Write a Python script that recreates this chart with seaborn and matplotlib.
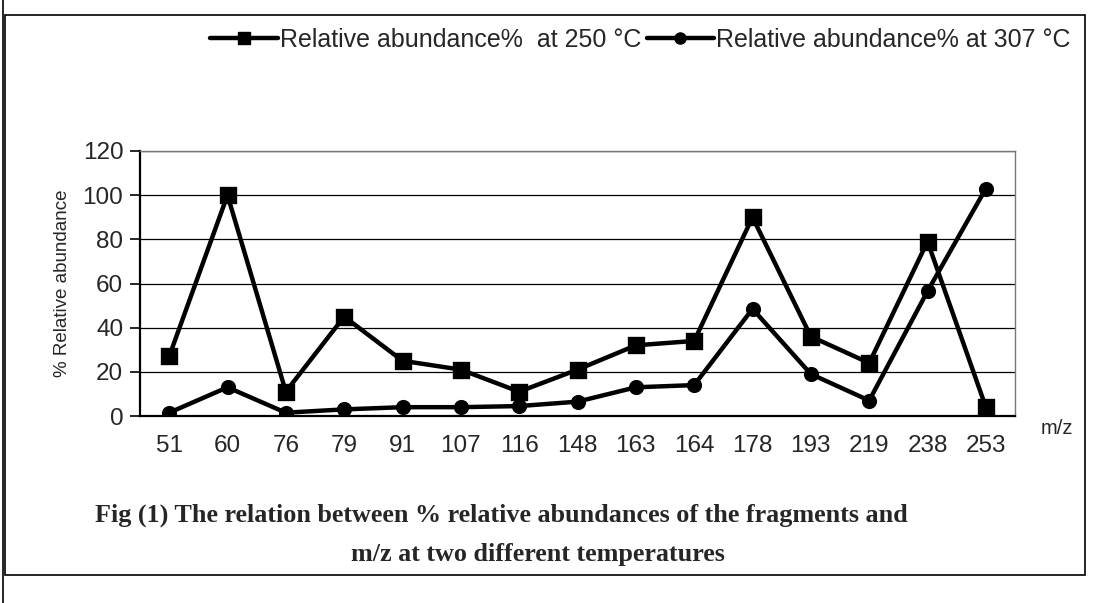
import numpy as np
import pandas as pd
import matplotlib
matplotlib.use("Agg")
import matplotlib.pyplot as plt
import seaborn as sns
from matplotlib.lines import Line2D
from matplotlib.patches import Rectangle

# m/z categories and % relative abundances
mz_labels = ["51", "60", "76", "79", "91", "107", "116", "148", "163",
             "164", "178", "193", "219", "238", "253"]
abund_250 = [27, 100, 11, 45, 25, 21, 11, 21, 32, 34, 90, 36, 24, 79, 4]
abund_307 = [1.5, 13, 1.5, 3, 4, 4, 4.5, 6.5, 13, 14, 48.5, 19, 7, 56.5, 103]
series_names = ["Relative abundance%  at 250 \u00b0C",
                "Relative abundance% at 307 \u00b0C"]
y_ticks = [0, 20, 40, 60, 80, 100, 120]

df = pd.DataFrame({
    "mz": mz_labels * 2,
    "abundance": abund_250 + abund_307,
    "series": [series_names[0]] * len(mz_labels) + [series_names[1]] * len(mz_labels),
})

sns.set_style("white")
plt.rcParams["font.family"] = ["Liberation Sans", "DejaVu Sans"]

fig = plt.figure(figsize=(11.12, 6.03), dpi=100)
ax = fig.add_axes([0.1259, 0.3101, 0.7869, 0.4395])

sns.pointplot(
    data=df, x="mz", y="abundance", hue="series", order=mz_labels,
    hue_order=series_names, palette=["black", "black"],
    markers=["s", "o"], linestyles=["-", "-"],
    markersize=10, linewidth=3.2, ax=ax, legend=False,
)
# circles are a bit smaller than the squares in the original
for ln in ax.lines:
    if ln.get_marker() == "o":
        ln.set_markersize(8.5)

ax.set_xlim(-0.5, len(mz_labels) - 0.5)
ax.set_ylim(0, 120)
ax.set_yticks(y_ticks)
ax.yaxis.grid(True, color="black", linewidth=0.9)
ax.set_axisbelow(True)

# category boundaries carry the tick marks, labels sit in the middle
ax.set_xticks(np.arange(len(mz_labels)))
ax.set_xticklabels(mz_labels, fontsize=17.5)
ax.set_xticks(np.arange(len(mz_labels) + 1) - 0.5, minor=True)
ax.tick_params(axis="x", which="major", length=0, pad=14)
ax.tick_params(axis="x", which="minor", length=9, width=1.2, color="black", direction="out")
ax.tick_params(axis="y", labelsize=17.5, length=7, width=1.2, color="black",
               direction="out", left=True, pad=5)

ax.set_xlabel("")
ax.set_ylabel("% Relative abundance", fontsize=13.5, labelpad=8)

for side in ["left", "bottom"]:
    ax.spines[side].set_color("black")
    ax.spines[side].set_linewidth(1.6)
for side in ["top", "right"]:
    ax.spines[side].set_color("#777777")
    ax.spines[side].set_linewidth(1.0)

fig.text(1057 / 1112, 1 - 428 / 603, "m/z", fontsize=14.5, ha="center", va="center")

# legend across the top
handles = [
    Line2D([], [], color="black", marker="s", markersize=9, linewidth=3.2),
    Line2D([], [], color="black", marker="o", markersize=8, linewidth=3.2),
]
fig.legend(handles, series_names, loc="center right", ncol=2,
           bbox_to_anchor=(1071 / 1112, 1 - 40 / 603), frameon=False,
           fontsize=18, handlelength=2.7, handletextpad=0.1, columnspacing=0.2,
           borderpad=0, borderaxespad=0)

# caption
cap_font = {"family": ["Liberation Serif", "DejaVu Serif"], "weight": "bold", "size": 18.8}
fig.text(95 / 1112, 1 - 515 / 603,
         "Fig (1) The relation between % relative abundances of the fragments and",
         ha="left", va="center", fontdict=cap_font)
fig.text(538 / 1112, 1 - 555 / 603, "m/z at two different temperatures",
         ha="center", va="center", fontdict=cap_font)

# outer frame of the scanned figure
fig.patches.append(Rectangle((5 / 1112, 1 - 575 / 603), 1080 / 1112, 560 / 603,
                             transform=fig.transFigure, fill=False,
                             edgecolor="black", linewidth=1.2))
fig.lines.append(Line2D([3 / 1112, 3 / 1112], [0, 1], transform=fig.transFigure,
                        color="black", linewidth=1.2))

fig.savefig("out.png", dpi=100)
